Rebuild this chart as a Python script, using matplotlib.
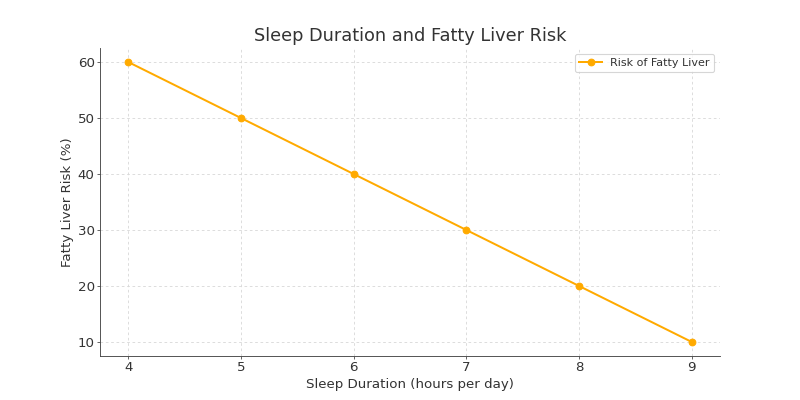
import matplotlib.pyplot as plt

# data
sleep_hours = [4, 5, 6, 7, 8, 9]
liver_risk = [60, 50, 40, 30, 20, 10]

plt.rcParams['text.color'] = '#333333'
plt.rcParams['axes.labelcolor'] = '#333333'
plt.rcParams['xtick.color'] = '#555555'
plt.rcParams['ytick.color'] = '#555555'
plt.rcParams['xtick.labelcolor'] = '#333333'
plt.rcParams['ytick.labelcolor'] = '#333333'

# 10x5 inches at 80 dpi -> 800x400 px
fig, ax = plt.subplots(figsize=(10, 5), dpi=80)
ax.plot(sleep_hours, liver_risk, marker='o', markersize=6, color='#FFAA00',
        linewidth=1.8, label='Risk of Fatty Liver')

ax.set_title('Sleep Duration and Fatty Liver Risk', fontsize=16)
ax.set_xlabel('Sleep Duration (hours per day)', fontsize=12, labelpad=3)
ax.set_ylabel('Fatty Liver Risk (%)', fontsize=12, labelpad=3)
ax.set_yticks([10, 20, 30, 40, 50, 60])
ax.tick_params(labelsize=12, length=3, pad=1.8)
ax.grid(True, linestyle=(0, (3, 3)), color='#d9d9d9', linewidth=0.8)
ax.spines['top'].set_visible(False)
ax.spines['right'].set_visible(False)
ax.spines['left'].set_color('#444444')
ax.spines['bottom'].set_color('#444444')
ax.legend(loc='upper right', fontsize=10)

plt.savefig('out.png', dpi=80)
